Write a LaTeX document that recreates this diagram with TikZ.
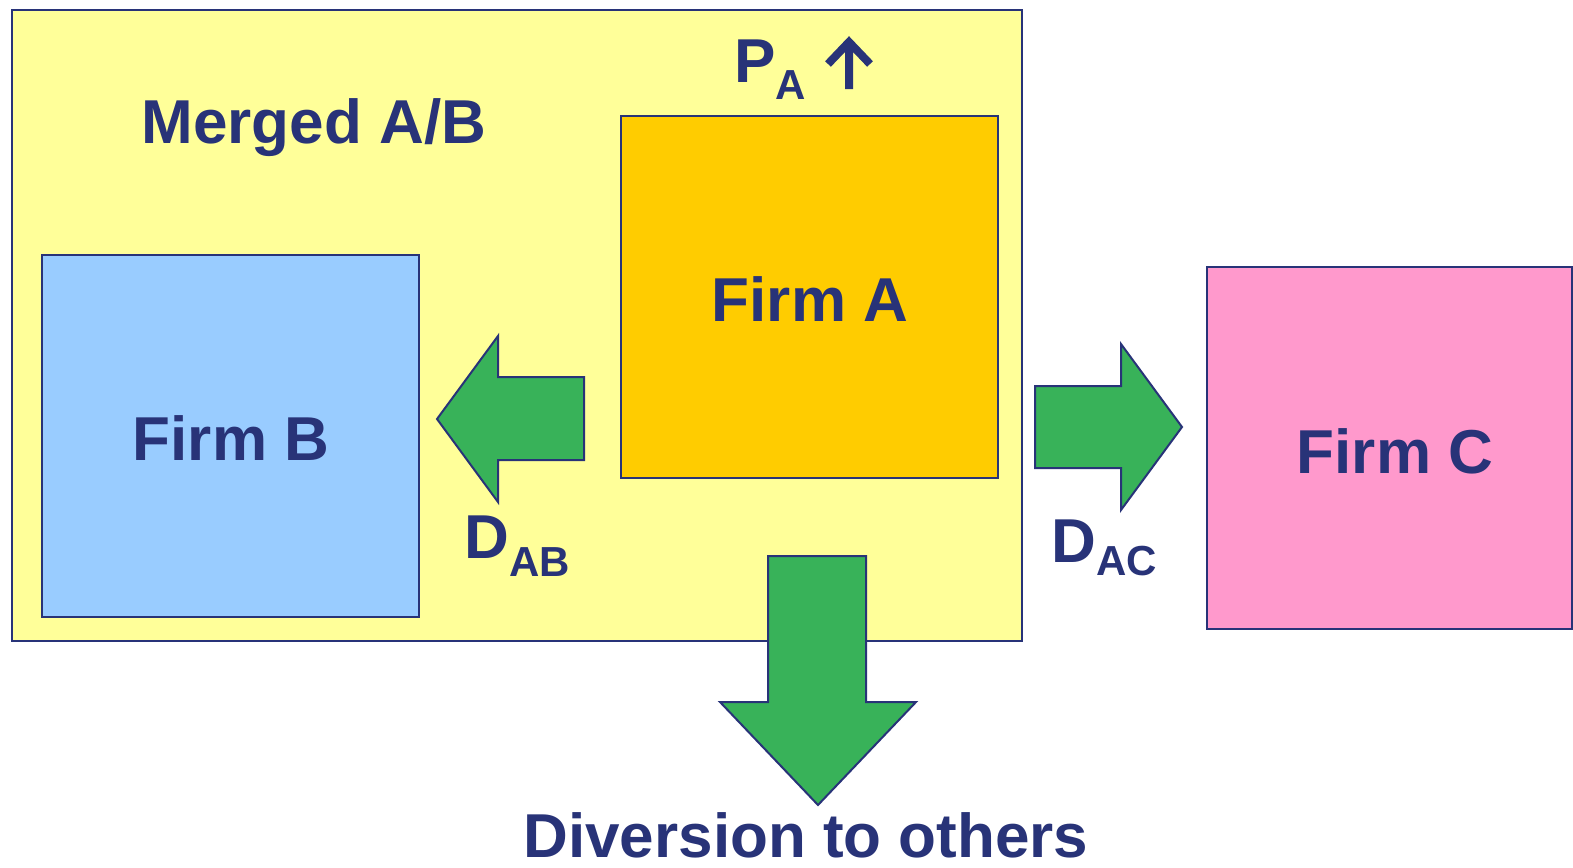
\documentclass[tikz,border=0pt]{standalone}
\usepackage{fontspec}
\setmainfont{Liberation Sans}
\definecolor{navy}{HTML}{283378}
\definecolor{mergedyellow}{HTML}{FFFF99}
\definecolor{firmblue}{HTML}{99CCFF}
\definecolor{firmorange}{HTML}{FFCC00}
\definecolor{firmpink}{HTML}{FF99CC}
\definecolor{flowgreen}{HTML}{38B259}
\tikzset{
  firmbox/.style={draw=navy, line width=1pt},
  flow/.style={draw=navy, fill=flowgreen, line width=1pt, line join=miter},
  lbl/.style={text=navy, font=\bfseries\fontsize{31}{31}\selectfont, inner sep=0pt},
  uparrow/.style={draw=navy, line width=4pt, line join=miter},
}
\newcommand{\lowsub}[2]{\raisebox{-#1}{\fontsize{21}{21}\selectfont #2}}
\begin{document}
\begin{tikzpicture}[x=0.5pt,y=-0.5pt]
\useasboundingbox (0,0) rectangle (1573,867);
% boxes
\draw[firmbox, fill=mergedyellow] (12,10) rectangle (1022,641);
\draw[firmbox, fill=firmblue]   (42,255) rectangle (419,617);
\draw[firmbox, fill=firmorange] (621,116) rectangle (998,478);
\draw[firmbox, fill=firmpink]   (1207,267) rectangle (1572,629);
% diversion arrows
\draw[flow] (584,377) -- (498,377) -- (498,336) -- (437,419) -- (498,502) -- (498,460) -- (584,460) -- cycle;
\draw[flow] (1035,386) -- (1121,386) -- (1121,344) -- (1182,427) -- (1121,510) -- (1121,468) -- (1035,468) -- cycle;
\draw[flow] (768,556) -- (866,556) -- (866,702) -- (916,702) -- (818,805) -- (720,702) -- (768,702) -- cycle;
% labels
\node[lbl, anchor=base] (merged) at (314,143) {Merged A/B};
\node[lbl, anchor=base] (firmA) at (810,321) {Firm A};
\node[lbl, anchor=base] (firmB) at (231,460) {Firm B};
\node[lbl, anchor=base] (firmC) at (1395,473) {Firm C};
\node[lbl, anchor=base] (others) at (806,857) {Diversion to others};
\node[lbl, anchor=base west] (price) at (734,82) {P\lowsub{8.5pt}{A}};
\draw[uparrow] (828,64) -- (849,42) -- (870,64) (849,44) -- (849,89);
\node[lbl, anchor=base west] (dab) at (464,558) {D\lowsub{9pt}{AB}};
\node[lbl, anchor=base west] (dac) at (1051,562) {D\lowsub{6.5pt}{AC}};
\end{tikzpicture}
\end{document}
